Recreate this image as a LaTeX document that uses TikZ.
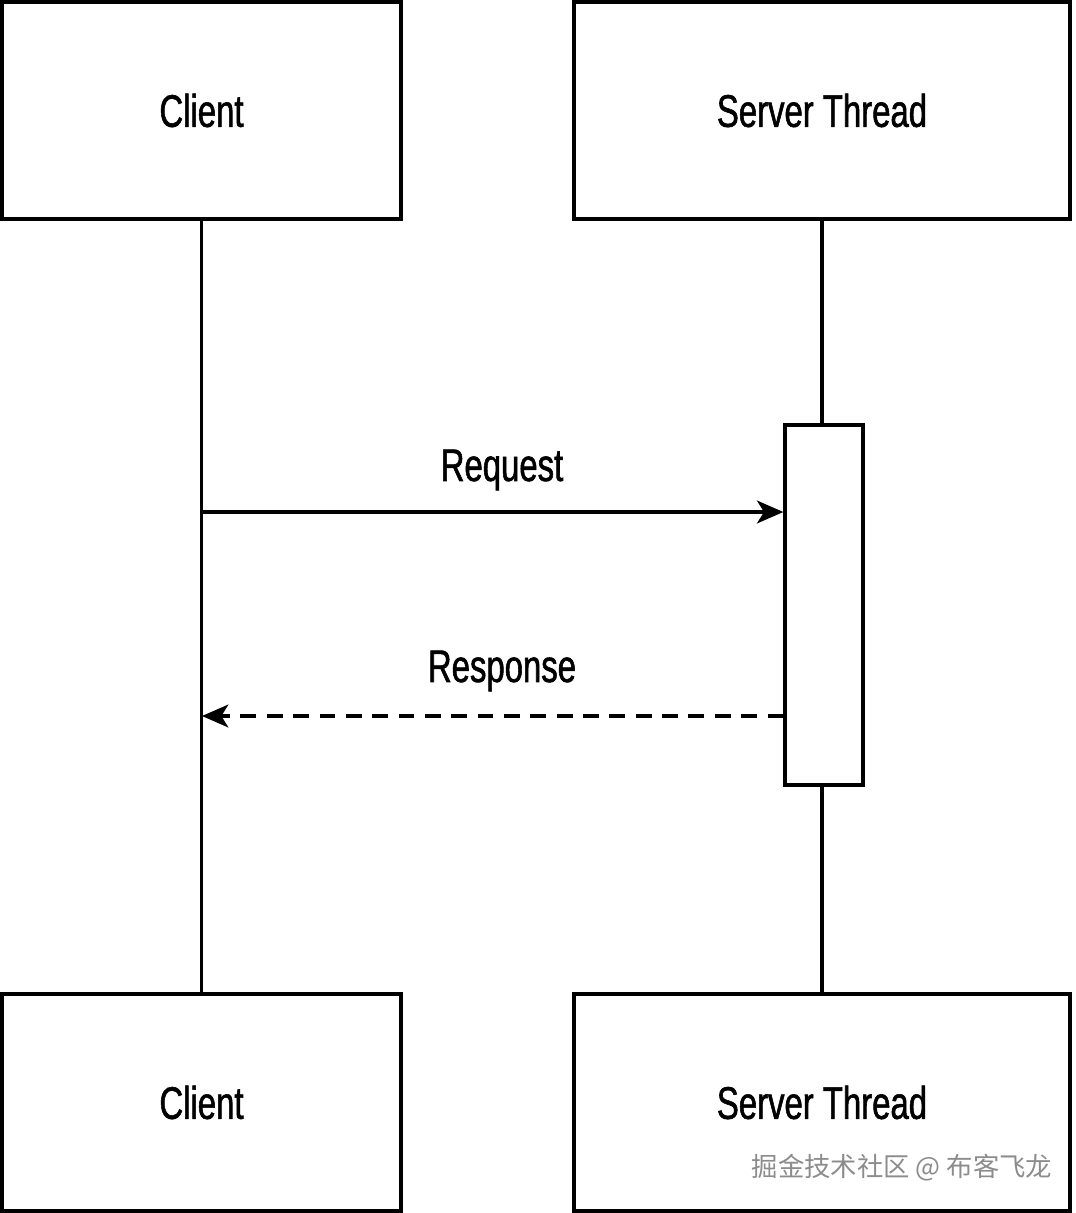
\documentclass[tikz,border=0pt]{standalone}
\usepackage{fontspec}
\setmainfont{Liberation Sans}[FakeStretch=0.72,FakeBold=1.2]
\newfontfamily\cjk{Noto Sans CJK SC}
\usetikzlibrary{arrows.meta}
\begin{document}
\begin{tikzpicture}[x=0.02cm,y=-0.02cm,
  obj/.style={draw,line width=1.9pt,minimum width=7.98cm,minimum height=4.34cm,inner sep=0pt,font=\fontsize{26}{30}\selectfont},
  srv/.style={obj,minimum width=9.92cm},
  act/.style={draw,line width=1.9pt,fill=white,minimum width=1.56cm,minimum height=7.2cm,inner sep=0pt},
  msg/.style={line width=1.8pt,-{Stealth[length=15pt,width=13pt,inset=4pt]}},
  lbl/.style={font=\fontsize{26}{30}\selectfont}]
\useasboundingbox (0,0) rectangle (1075,1213);

% Objects
\node[obj] (c1) at (201.5,110.5) {Client};
\node[srv] (s1) at (822,110.5) {Server Thread};
\node[obj] (c2) at (201.5,1102.5) {Client};
\node[srv] (s2) at (822,1102.5) {Server Thread};

% Lifelines
\draw[line width=1.9pt] (c1.south) -- (c2.north);
\draw[line width=1.9pt] (s1.south) -- (s2.north);

% Activation
\node[act] (a) at (824,605) {};
\coordinate (rq) at (202,512);
\coordinate (rs) at (202,716);

% Messages
\draw[msg] (rq) -- (rq -| a.west);
\draw[msg,dashed,dash pattern=on 9pt off 6pt] (rs -| a.west) -- (rs);
\node[lbl] (req) at (502,470) {Request};
\node[lbl] (resp) at (502,671) {Response};

\node[text=black!45,font=\cjk\fontsize{15}{18}\selectfont] (wm) at (902,1168) {掘金技术社区 @ 布客飞龙};
\end{tikzpicture}
\end{document}
